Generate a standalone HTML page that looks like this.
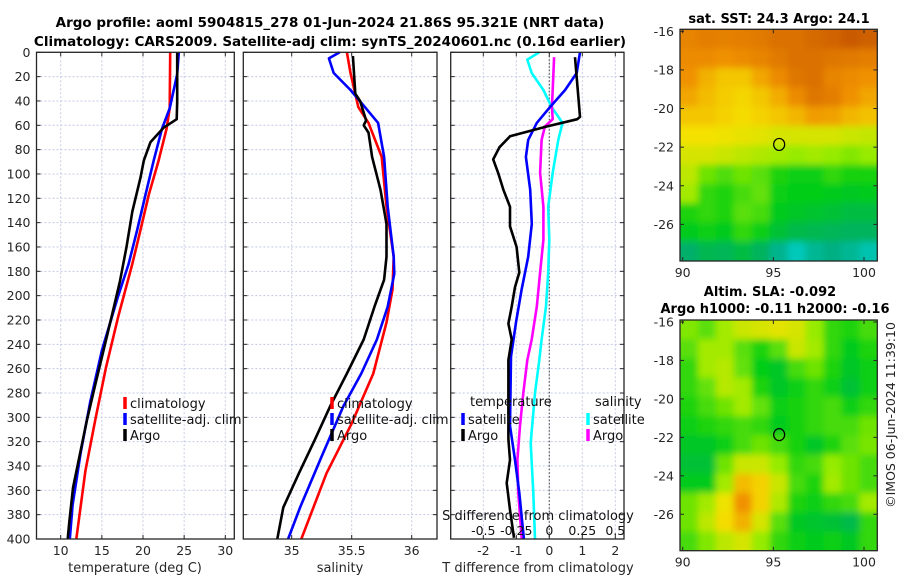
<!DOCTYPE html>
<html><head><meta charset="utf-8">
<style>
html,body{margin:0;padding:0;background:#fff;}
svg{display:block;font-family:"DejaVu Sans","Liberation Sans",sans-serif;}
</style></head>
<body>
<svg id="fig" width="900" height="580" viewBox="0 0 900 580" xmlns="http://www.w3.org/2000/svg">
<text x="330" y="27" font-size="13.5" font-weight="bold" text-anchor="middle" fill="#000">Argo profile: aoml 5904815_278 01-Jun-2024 21.86S 95.321E (NRT data)</text>
<text x="330" y="46" font-size="13.5" font-weight="bold" text-anchor="middle" fill="#000">Climatology: CARS2009. Satellite-adj clim: synTS_20240601.nc (0.16d earlier)</text>
<text x="779" y="23" font-size="13" font-weight="bold" text-anchor="middle">sat. SST: 24.3 Argo: 24.1</text>
<text x="770" y="296" font-size="13" font-weight="bold" text-anchor="middle">Altim. SLA: -0.092</text>
<text x="775" y="313" font-size="13" font-weight="bold" text-anchor="middle">Argo h1000: -0.11 h2000: -0.16</text>
<text transform="translate(895,415) rotate(-90)" font-size="12.5" text-anchor="middle" fill="#222">©IMOS 06-Jun-2024 11:39:10</text>
</svg>
<script>
// ---------- data ----------
const depthTicks=[0,20,40,60,80,100,120,140,160,180,200,220,240,260,280,300,320,340,360,380,400];
const tempTicks=[10,15,20,25,30];
const salTicks=[35,35.5,36];
const salTickLabels=["35","35.5","36"];
const tdiffTicks=[-2,-1,0,1,2];
const sdiffTicks=[-0.5,-0.25,0,0.25,0.5];
const sdiffTickLabels=["-0.5","-0.25","0","0.25","0.5"];

const argoTempDepth=[0,20,40,55,62,74,89,103,131,160,188,217,245,273,302,330,358,386,400];
const argoTemp=[24.15,24.15,24.15,24.1,22.5,20.9,20.1,19.7,18.7,18.0,17.2,16.2,15.2,14.2,13.2,12.35,11.5,11.05,10.85];
const satTempDepth=[0,18,46,63,89,117,146,174,202,245,287,330,372,400];
const satTemp=[24.35,24.15,23.25,22.3,21.3,20.3,19.3,18.25,16.9,15.0,13.6,12.4,11.45,11.1];
const climTempDepth=[0,46,63,89,117,146,174,217,259,302,344,400];
const climTemp=[23.3,23.25,22.85,21.9,20.7,19.7,18.7,17.0,15.5,14.2,13.0,11.9];

const argoSalDepth=[3,34,40,56,60,66,86,113,141,168,187,209,236,264,291,319,346,374,400];
const argoSal=[35.51,35.53,35.57,35.62,35.60,35.64,35.67,35.74,35.79,35.79,35.77,35.69,35.6,35.46,35.32,35.19,35.06,34.93,34.88];
const satSalDepth=[0,5,17,31,45,58,86,127,168,182,209,236,264,291,332,374,400];
const satSal=[35.40,35.31,35.35,35.49,35.61,35.72,35.77,35.80,35.85,35.855,35.80,35.71,35.58,35.43,35.25,35.07,34.97];
const climSalDepth=[0,17,45,58,86,127,168,195,222,264,305,346,400];
const climSal=[35.46,35.49,35.555,35.64,35.75,35.79,35.85,35.84,35.79,35.68,35.5,35.29,35.08];

const argoTdDepth=[4,53,55,61,69,78,88,99,113,127,143,160,181,193,209,223,236,253,318,335,354,376,399];
const argoTd=[0.78,0.93,0.85,-0.08,-1.19,-1.51,-1.70,-1.55,-1.39,-1.19,-1.19,-0.99,-0.91,-1.04,-1.14,-1.24,-1.14,-1.24,-1.24,-1.19,-1.29,-1.19,-1.07];
const satTdDepth=[0,17,31,45,58,72,86,113,141,168,195,222,250,307,335,362,400];
const satTd=[0.93,0.83,0.48,0.02,-0.38,-0.64,-0.71,-0.58,-0.53,-0.64,-0.84,-1.01,-1.16,-1.19,-1.04,-0.91,-0.77];
const argoSdDepth=[4,31,45,55,61,72,99,127,154,181,209,236,253,280,307,335,362,400];
const argoSd=[0.036,0.026,0.02,0.026,-0.033,-0.058,-0.07,-0.045,-0.045,-0.07,-0.095,-0.133,-0.167,-0.197,-0.222,-0.242,-0.235,-0.209];
const satSdDepth=[0,6,17,31,45,58,72,99,127,154,181,209,236,253,280,321,362,400];
const satSd=[-0.076,-0.167,-0.133,-0.045,0.018,0.10,0.068,0.026,-0.008,0.0,-0.008,-0.025,-0.058,-0.076,-0.108,-0.141,-0.121,-0.108];

const sstGrid=[
[0.84,0.86,0.85,0.86,0.87,0.9,0.9,0.92,0.94,0.97,0.95],
[0.82,0.82,0.8,0.82,0.84,0.87,0.9,0.9,0.88,0.87,0.86],
[0.8,0.74,0.7,0.7,0.76,0.82,0.88,0.9,0.84,0.82,0.8],
[0.76,0.72,0.69,0.67,0.7,0.75,0.82,0.88,0.86,0.8,0.76],
[0.7,0.7,0.68,0.66,0.68,0.7,0.73,0.78,0.77,0.73,0.71],
[0.65,0.65,0.64,0.63,0.62,0.6,0.6,0.6,0.6,0.58,0.57],
[0.6,0.6,0.58,0.56,0.54,0.52,0.5,0.52,0.5,0.48,0.5],
[0.56,0.46,0.43,0.46,0.44,0.38,0.36,0.36,0.4,0.37,0.37],
[0.52,0.4,0.38,0.42,0.45,0.36,0.35,0.35,0.34,0.33,0.34],
[0.38,0.4,0.38,0.44,0.42,0.34,0.32,0.31,0.3,0.28,0.28],
[0.34,0.36,0.34,0.4,0.36,0.3,0.27,0.26,0.25,0.24,0.24],
[0.22,0.26,0.25,0.28,0.24,0.16,0.08,0.15,0.18,0.15,0.1]];
const slaGrid=[
[0.48,0.44,0.52,0.58,0.6,0.62,0.6,0.5,0.4,0.38,0.42],
[0.44,0.52,0.52,0.44,0.38,0.44,0.58,0.52,0.4,0.34,0.38],
[0.4,0.52,0.55,0.45,0.35,0.32,0.42,0.46,0.38,0.32,0.36],
[0.4,0.45,0.55,0.52,0.38,0.32,0.36,0.4,0.36,0.3,0.36],
[0.38,0.42,0.46,0.52,0.45,0.36,0.37,0.4,0.42,0.36,0.4],
[0.36,0.38,0.4,0.42,0.4,0.34,0.37,0.4,0.42,0.42,0.46],
[0.32,0.32,0.36,0.42,0.46,0.42,0.37,0.32,0.38,0.44,0.47],
[0.3,0.3,0.46,0.58,0.58,0.5,0.4,0.42,0.5,0.46,0.42],
[0.34,0.34,0.52,0.72,0.68,0.58,0.42,0.38,0.52,0.46,0.42],
[0.46,0.52,0.64,0.8,0.68,0.54,0.38,0.36,0.4,0.42,0.52],
[0.46,0.56,0.66,0.74,0.6,0.44,0.33,0.31,0.3,0.27,0.4],
[0.42,0.48,0.56,0.6,0.5,0.4,0.36,0.34,0.36,0.33,0.4]];
const latTicks=[-16,-18,-20,-22,-24,-26];
const lonTicks=[90,95,100];
const argoLon=95.321, argoLat=-21.86;

// ---------- helpers ----------
const NS="http://www.w3.org/2000/svg";
const svg=document.getElementById('fig');
function mk(tag,attrs,parent){const e=document.createElementNS(NS,tag);for(const k in attrs)e.setAttribute(k,attrs[k]);(parent||svg).appendChild(e);return e;}
const TOP=52.3,BOT=539;
const yD=d=>TOP+(d/400)*(BOT-TOP);
function lin(d0,d1,r0,r1){return v=>r0+(v-d0)/(d1-d0)*(r1-r0);}

function panel(name,x0,x1,xs,xticks){
  const g=mk('g',{});
  
  
  mk('rect',{x:x0,y:TOP,width:x1-x0,height:BOT-TOP,fill:'#fff'},g);
  depthTicks.forEach(d=>{const l=mk('line',{x1:x0,x2:x1,y1:yD(d),y2:yD(d),stroke:'#c3c8e6','stroke-width':1,'stroke-dasharray':'2,2'},g);
    });
  xticks.forEach(v=>{const l=mk('line',{x1:xs(v),x2:xs(v),y1:TOP,y2:BOT,stroke:'#c8cce6','stroke-width':1,'stroke-dasharray':'2,2'},g);
    });
  return g;
}
function frame(g,x0,x1,xs,xticks,xlabels,showY){
  mk('rect',{x:x0,y:TOP,width:x1-x0,height:BOT-TOP,fill:'none',stroke:'#262626','stroke-width':1.3},g);
  depthTicks.forEach(d=>{
    mk('line',{x1:x0,x2:x0+4,y1:yD(d),y2:yD(d),stroke:'#262626'},g);
    mk('line',{x1:x1,x2:x1-4,y1:yD(d),y2:yD(d),stroke:'#262626'},g);
    if(showY){const t=mk('text',{x:x0-6,y:yD(d)+4.5,'font-size':12.5,'text-anchor':'end',fill:'#262626'},g);t.textContent=d;
      }
  });
  xticks.forEach((v,i)=>{
    mk('line',{x1:xs(v),x2:xs(v),y1:BOT,y2:BOT-4,stroke:'#262626'},g);
    mk('line',{x1:xs(v),x2:xs(v),y1:TOP,y2:TOP+4,stroke:'#262626'},g);
    const t=mk('text',{x:xs(v),y:555,'font-size':12.5,'text-anchor':'middle',fill:'#262626'},g);t.textContent=xlabels[i];
    
  });
}
function series(g,name,xs,vals,depths,color,w){
  const pts=vals.map((v,i)=>xs(v).toFixed(1)+','+yD(depths[i]).toFixed(1)).join(' ');
  const p=mk('polyline',{points:pts,fill:'none',stroke:color,'stroke-width':w||2.6,'stroke-linejoin':'round'},g);
  
  
}
function legendEntry(g,name,x,y,color,label){
  const e=mk('g',{},g);
  
  
  if(color) mk('line',{x1:x,x2:x,y1:y-11,y2:y+1,stroke:color,'stroke-width':3.5},e);
  const t=mk('text',{x:color?x+5:x,y:y,'font-size':13,fill:'#111'},e);t.textContent=label;
}

// ---------- panel 1 temperature ----------
const xT=lin(10,30,60.7,225.3);
let g1=panel('temperature-panel',36.5,234.3,xT,tempTicks);
series(g1,'temp-climatology-line',xT,climTemp,climTempDepth,'#ff0000');
series(g1,'temp-satellite-line',xT,satTemp,satTempDepth,'#0000ff');
series(g1,'temp-argo-line',xT,argoTemp,argoTempDepth,'#000000');
legendEntry(g1,'legend-climatology',125,408,'#ff0000','climatology');
legendEntry(g1,'legend-satellite-adj',125,424,'#0000ff','satellite-adj. clim');
legendEntry(g1,'legend-argo',125,440,'#000000','Argo');
frame(g1,36.5,234.3,xT,tempTicks,tempTicks.map(String),true);
let xl=mk('text',{x:135,y:572,'font-size':13,'text-anchor':'middle',fill:'#262626'});xl.textContent='temperature (deg C)';


// ---------- panel 2 salinity ----------
const xS=lin(35,36,291.7,411.7);
let g2=panel('salinity-panel',243.3,437,xS,salTicks);
series(g2,'sal-climatology-line',xS,climSal,climSalDepth,'#ff0000');
series(g2,'sal-satellite-line',xS,satSal,satSalDepth,'#0000ff');
series(g2,'sal-argo-line',xS,argoSal,argoSalDepth,'#000000');
legendEntry(g2,'legend-climatology-2',332,408,'#ff0000','climatology');
legendEntry(g2,'legend-satellite-adj-2',332,424,'#0000ff','satellite-adj. clim');
legendEntry(g2,'legend-argo-2',332,440,'#000000','Argo');
frame(g2,243.3,437,xS,salTicks,salTickLabels,false);
xl=mk('text',{x:340,y:572,'font-size':13,'text-anchor':'middle',fill:'#262626'});xl.textContent='salinity';


// ---------- panel 3 differences ----------
const xTd=lin(0,1,549.3,582.3);
const xSd=lin(0,0.25,549.3,582.3);
let g3=panel('difference-panel',450.7,624,xTd,tdiffTicks);
mk('line',{x1:xTd(0),x2:xTd(0),y1:TOP,y2:BOT,stroke:'#555','stroke-width':1.2,'stroke-dasharray':'1.5,2'},g3);
series(g3,'sdiff-satellite-line',xSd,satSd,satSdDepth,'#00ffff');
series(g3,'sdiff-argo-line',xSd,argoSd,argoSdDepth,'#ff00ff');
series(g3,'tdiff-satellite-line',xTd,satTd,satTdDepth,'#0000ff');
series(g3,'tdiff-argo-line',xTd,argoTd,argoTdDepth,'#000000');
legendEntry(g3,'legend-temperature-heading',470,406,null,'temperature');
legendEntry(g3,'legend-t-satellite',463,424,'#0000ff','satellite');
legendEntry(g3,'legend-t-argo',463,440,'#000000','Argo');
legendEntry(g3,'legend-salinity-heading',595,406,null,'salinity');
legendEntry(g3,'legend-s-satellite',588,424,'#00ffff','satellite');
legendEntry(g3,'legend-s-argo',588,440,'#ff00ff','Argo');
let st=mk('text',{x:538,y:520,'font-size':13,'text-anchor':'middle',fill:'#111'},g3);st.textContent='S difference from climatology';

sdiffTicks.forEach((v,i)=>{const t=mk('text',{x:xSd(v),y:535,'font-size':12.5,'text-anchor':'middle',fill:'#111'},g3);t.textContent=sdiffTickLabels[i];
  });
frame(g3,450.7,624,xTd,tdiffTicks,tdiffTicks.map(String),false);
xl=mk('text',{x:538,y:572,'font-size':13,'text-anchor':'middle',fill:'#262626'});xl.textContent='T difference from climatology';


// ---------- maps ----------
const stops=[[0,[0,220,230]],[0.2,[0,170,120]],[0.35,[0,205,20]],[0.5,[150,235,0]],[0.65,[245,225,0]],[0.8,[240,145,0]],[1,[195,80,0]]];
function cmap(v){v=Math.max(0,Math.min(1,v));for(let i=1;i<stops.length;i++){if(v<=stops[i][0]){const a=stops[i-1],b=stops[i],t=(v-a[0])/(b[0]-a[0]);
  return 'rgb('+a[1].map((c,k)=>Math.round(c+(b[1][k]-c)*t)).join(',')+')';}}return 'rgb(195,80,0)';}
const defs=mk('defs',{});
const f=mk('filter',{id:'soft',x:'-5%',y:'-5%',width:'110%',height:'110%'},defs);
mk('feGaussianBlur',{stdDeviation:3.5},f);
function map(name,grid,y0,y1){
  const x0=680,x1=877.3;
  const lonS=lin(90,100,682.7,864);
  const g=mk('g',{});
  
  
  const cp=mk('clipPath',{id:name+'-clip'},defs);mk('rect',{x:x0,y:y0,width:x1-x0,height:y1-y0},cp);
  const inner=mk('g',{'clip-path':'url(#'+name+'-clip)'},g);
  const cells=mk('g',{filter:'url(#soft)'},inner);
  const nr=grid.length,nc=grid[0].length,cw=(x1-x0)/nc,ch=(y1-y0)/nr;
  mk('rect',{x:x0-10,y:y0-10,width:x1-x0+20,height:y1-y0+20,fill:cmap(grid[5][5])},cells);
  grid.forEach((row,r)=>row.forEach((v,c)=>{
    const rc=mk('rect',{x:(x0+c*cw-(c==0?10:0)).toFixed(1),y:(y0+r*ch-(r==0?10:0)).toFixed(1),width:(cw+(c==0||c==nc-1?10:0)+0.5).toFixed(1),height:(ch+(r==0||r==nr-1?10:0)+0.5).toFixed(1),fill:cmap(v)},cells);
    
    
  }));
  const latP=v=>y0+((-16-v)/12)*(y1-y0)+2;
  const mk1=mk('ellipse',{cx:lonS(argoLon),cy:latP(argoLat),rx:5.5,ry:6,fill:'none',stroke:'#000','stroke-width':1.2},g);
  
  mk('rect',{x:x0,y:y0,width:x1-x0,height:y1-y0,fill:'none',stroke:'#262626','stroke-width':1.3},g);
  latTicks.forEach(v=>{const y=latP(v);
    mk('line',{x1:x0,x2:x0+4,y1:y,y2:y,stroke:'#262626'},g);mk('line',{x1:x1,x2:x1-4,y1:y,y2:y,stroke:'#262626'},g);
    const t=mk('text',{x:x0-6,y:y+4.5,'font-size':12.5,'text-anchor':'end',fill:'#262626'},g);t.textContent=v;
    });
  lonTicks.forEach(v=>{const x=lonS(v);
    mk('line',{x1:x,x2:x,y1:y1,y2:y1-4,stroke:'#262626'},g);mk('line',{x1:x,x2:x,y1:y0,y2:y0+4,stroke:'#262626'},g);
    const t=mk('text',{x:x,y:y1+16,'font-size':12.5,'text-anchor':'middle',fill:'#262626'},g);t.textContent=v;
    });
}
map('sst-map',sstGrid,29.3,261);
map('sla-map',slaGrid,320,550.7);
</script>
</body></html>
